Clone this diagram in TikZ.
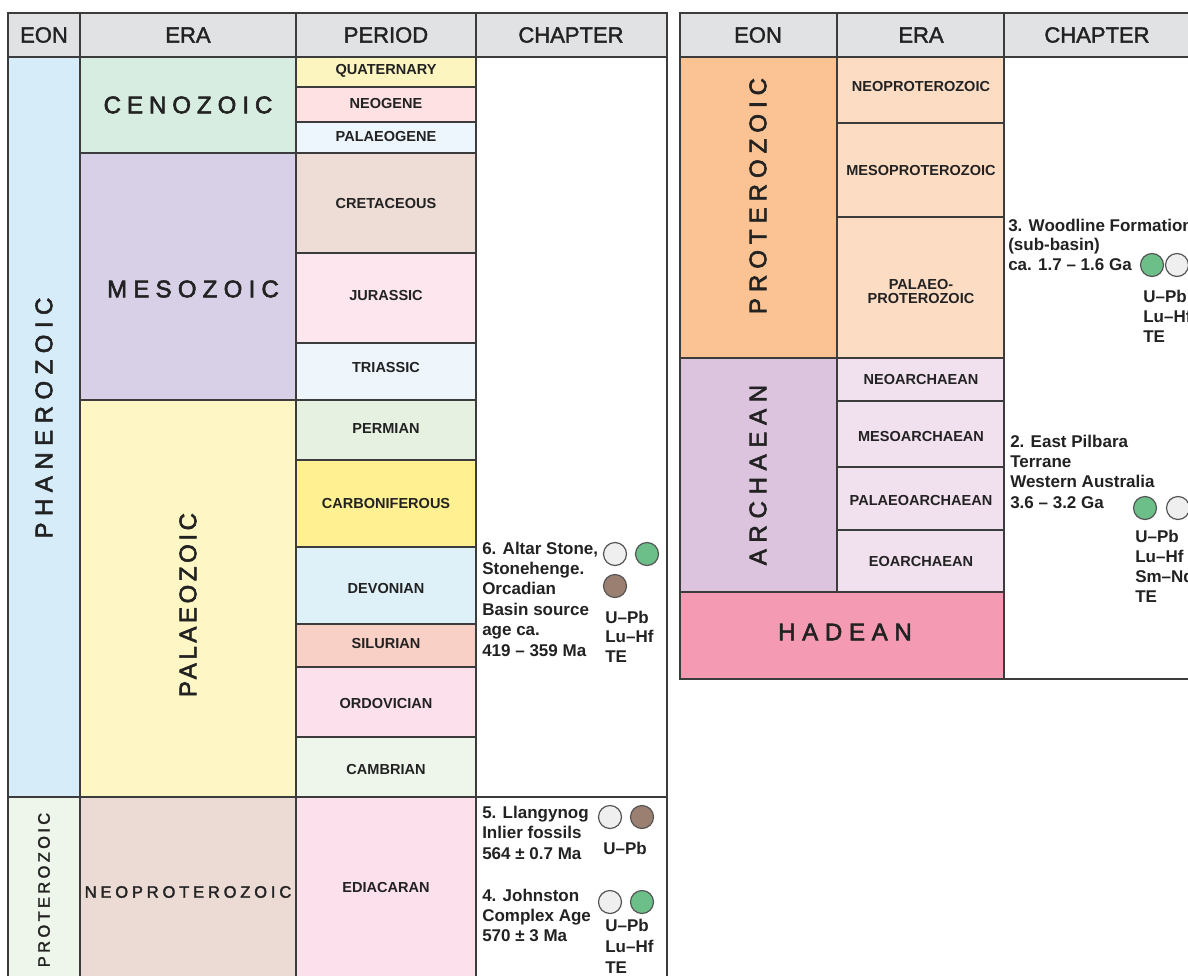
\documentclass[tikz,border=0pt]{standalone}
\usepackage{fontspec}
\setmainfont{Liberation Sans}
\setsansfont{Liberation Sans}
\newcommand{\lsp}[2]{{\addfontfeatures{LetterSpace=#1,FakeBold=2.5}#2}}
\newcommand{\lss}[2]{{\addfontfeatures{LetterSpace=#1,FakeBold=2}#2}}
\newcommand{\hfb}[1]{{\addfontfeatures{FakeBold=1.8}#1}}
\definecolor{lc}{HTML}{3C3C3C}
\definecolor{tc}{HTML}{222222}
\definecolor{hdrc}{HTML}{E1E2E4}
\definecolor{phan}{HTML}{D6EDF9}
\definecolor{ceno}{HTML}{D8EDE1}
\definecolor{meso}{HTML}{D7D0E7}
\definecolor{palz}{HTML}{FEF6C4}
\definecolor{quat}{HTML}{FDF5C0}
\definecolor{neog}{HTML}{FDE1E3}
\definecolor{palg}{HTML}{EEF6FD}
\definecolor{cret}{HTML}{EEDDD7}
\definecolor{jura}{HTML}{FDE6EE}
\definecolor{tria}{HTML}{EEF6FC}
\definecolor{perm}{HTML}{E6F1E2}
\definecolor{carb}{HTML}{FFF091}
\definecolor{devo}{HTML}{DFF1F8}
\definecolor{silu}{HTML}{F9D0C5}
\definecolor{ordo}{HTML}{FCE0EB}
\definecolor{camb}{HTML}{EEF6EC}
\definecolor{lprot}{HTML}{EEF6EC}
\definecolor{lneo}{HTML}{ECDAD5}
\definecolor{edia}{HTML}{FCE0EB}
\definecolor{rprot}{HTML}{FBC393}
\definecolor{rproe}{HTML}{FDDCC4}
\definecolor{arch}{HTML}{DCC3DE}
\definecolor{arce}{HTML}{F1E0EE}
\definecolor{hade}{HTML}{F49BB3}
\definecolor{cwhite}{HTML}{EFEFEF}
\definecolor{cgreen}{HTML}{6CBF88}
\definecolor{cbrown}{HTML}{9B8072}
\definecolor{cline}{HTML}{555555}
\begin{document}
\begin{tikzpicture}[x=0.75pt,y=-0.75pt,
  cell/.style={draw=lc, line width=1.5pt},
  outer/.style={draw=lc, line width=2pt},
  hdr/.style={font=\fontsize{16.5}{18}\selectfont, text=tc, inner sep=0},
  per/.style={font=\bfseries\fontsize{10.9}{12}\selectfont, text=tc, inner sep=0, align=center},
  big/.style={font=\fontsize{18}{20}\selectfont, text=tc, inner sep=0},
  small/.style={font=\fontsize{12.4}{14}\selectfont, text=tc, inner sep=0},
  ctext/.style={anchor=base west, inner sep=0, font=\bfseries\fontsize{12.75}{15}\selectfont, text=tc},
  circ/.style={circle, draw=cline, line width=0.9pt, minimum size=17.25pt, inner sep=0}]
\useasboundingbox (0,0) rectangle (1188,975);
\clip (0,0) rectangle (1188,975);
\fill[white] (0,0) rectangle (1188,975);
% ---------- left table ----------
\draw[cell, fill=hdrc] (8,13) rectangle (80,57);
\draw[cell, fill=hdrc] (80,13) rectangle (296,57);
\draw[cell, fill=hdrc] (296,13) rectangle (476,57);
\draw[cell, fill=hdrc] (476,13) rectangle (667,57);
\draw[cell, fill=phan] (8,57) rectangle (80,797);
\draw[cell, fill=lprot] (8,797) rectangle (80,990);
\draw[cell, fill=ceno] (80,57) rectangle (296,153);
\draw[cell, fill=meso] (80,153) rectangle (296,400);
\draw[cell, fill=palz] (80,400) rectangle (296,797);
\draw[cell, fill=lneo] (80,797) rectangle (296,990);
\draw[cell, fill=quat] (296,57) rectangle (476,87);
\draw[cell, fill=neog] (296,87) rectangle (476,122);
\draw[cell, fill=palg] (296,122) rectangle (476,153);
\draw[cell, fill=cret] (296,153) rectangle (476,253);
\draw[cell, fill=jura] (296,253) rectangle (476,343);
\draw[cell, fill=tria] (296,343) rectangle (476,400);
\draw[cell, fill=perm] (296,400) rectangle (476,460);
\draw[cell, fill=carb] (296,460) rectangle (476,547);
\draw[cell, fill=devo] (296,547) rectangle (476,624);
\draw[cell, fill=silu] (296,624) rectangle (476,667);
\draw[cell, fill=ordo] (296,667) rectangle (476,737);
\draw[cell, fill=camb] (296,737) rectangle (476,797);
\draw[cell, fill=edia] (296,797) rectangle (476,990);
\draw[cell, fill=white] (476,57) rectangle (667,797);
\draw[cell, fill=white] (476,797) rectangle (667,990);
\draw[outer] (8,990) -- (8,13) -- (667,13) -- (667,990);
% headers
\node[hdr] (hL1) at (44,35) {\hfb{EON}};
\node[hdr] (hL2) at (188,35) {\hfb{ERA}};
\node[hdr] (hL3) at (386,35) {\hfb{PERIOD}};
\node[hdr] (hL4) at (571,35) {\hfb{CHAPTER}};
% eons / eras
\node[big, rotate=90] (ePhan) at (44,418) {\lsp{27}{PHANEROZOIC}};
\node[small, rotate=90] (eProtL) at (44,890) {\lss{20}{PROTEROZOIC}};
\node[big] (rCeno) at (188,105) {\lsp{25}{CENOZOIC}};
\node[big] (rMeso) at (193,289) {\lsp{26}{MESOZOIC}};
\node[big, rotate=90] (rPalz) at (188,605) {\lsp{15}{PALAEOZOIC}};
\node[small] (rNeoL) at (188,892) {\lss{23}{NEOPROTEROZOIC}};
% periods
\node[per] (pQuat) at (386,71) {QUATERNARY};
\node[per] (pNeog) at (386,103) {NEOGENE};
\node[per] (pPalg) at (386,136) {PALAEOGENE};
\node[per] (pCret) at (386,203) {CRETACEOUS};
\node[per] (pJura) at (386,295) {JURASSIC};
\node[per] (pTria) at (386,367) {TRIASSIC};
\node[per] (pPerm) at (386,428) {PERMIAN};
\node[per] (pCarb) at (386,503) {CARBONIFEROUS};
\node[per] (pDevo) at (386,588) {DEVONIAN};
\node[per] (pSilu) at (386,643) {SILURIAN};
\node[per] (pOrdo) at (386,703) {ORDOVICIAN};
\node[per] (pCamb) at (386,769) {CAMBRIAN};
\node[per] (pEdia) at (386,887) {EDIACARAN};
% chapter 6
\foreach \t [count=\i] in {{6. Altar Stone,},{Stonehenge.},{Orcadian},{Basin source},{age ca.},{419 – 359 Ma}}
  \node[ctext] (c6t\i) at (482,{554+20.4*(\i-1)}) {\t};
\node[circ, fill=cwhite] (c6a) at (615,554) {};
\node[circ, fill=cgreen] (c6b) at (647,554) {};
\node[circ, fill=cbrown] (c6c) at (615,586) {};
\foreach \t [count=\i] in {U–Pb,Lu–Hf,TE}
  \node[ctext] (c6m\i) at (605,{623+19.5*(\i-1)}) {\t};
% chapter 5
\foreach \t [count=\i] in {5. Llangynog,Inlier fossils,564 ± 0.7 Ma}
  \node[ctext] (c5t\i) at (482,{818+20.5*(\i-1)}) {\t};
\node[circ, fill=cwhite] (c5a) at (610,817) {};
\node[circ, fill=cbrown] (c5b) at (642,817) {};
\node[ctext] (c5m1) at (603,854) {U–Pb};
% chapter 4
\foreach \t [count=\i] in {4. Johnston,Complex Age,570 ± 3 Ma}
  \node[ctext] (c4t\i) at (482,{901+20*(\i-1)}) {\t};
\node[circ, fill=cwhite] (c4a) at (610,902) {};
\node[circ, fill=cgreen] (c4b) at (642,902) {};
\foreach \t [count=\i] in {U–Pb,Lu–Hf,TE}
  \node[ctext] (c4m\i) at (605,{931+21*(\i-1)}) {\t};
% ---------- right table ----------
\draw[cell, fill=hdrc] (680,13) rectangle (837,57);
\draw[cell, fill=hdrc] (837,13) rectangle (1004,57);
\draw[cell, fill=hdrc] (1004,13) rectangle (1200,57);
\draw[cell, fill=rprot] (680,57) rectangle (837,358);
\draw[cell, fill=arch] (680,358) rectangle (837,592);
\draw[cell, fill=rproe] (837,57) rectangle (1004,123);
\draw[cell, fill=rproe] (837,123) rectangle (1004,217);
\draw[cell, fill=rproe] (837,217) rectangle (1004,358);
\draw[cell, fill=arce] (837,358) rectangle (1004,401);
\draw[cell, fill=arce] (837,401) rectangle (1004,467);
\draw[cell, fill=arce] (837,467) rectangle (1004,530);
\draw[cell, fill=arce] (837,530) rectangle (1004,592);
\draw[cell, fill=hade] (680,592) rectangle (1004,679);
\draw[cell, fill=white] (1004,57) rectangle (1200,679);
\draw[outer] (1200,13) -- (680,13) -- (680,679) -- (1200,679);
\node[hdr] (hR1) at (758,35) {\hfb{EON}};
\node[hdr] (hR2) at (921,35) {\hfb{ERA}};
\node[hdr] (hR3) at (1097,35) {\hfb{CHAPTER}};
\node[big, rotate=90] (eProtR) at (758,196) {\lsp{25}{PROTEROZOIC}};
\node[big, rotate=90] (eArch) at (758,475) {\lsp{28}{ARCHAEAN}};
\node[big] (eHade) at (845,632) {\lsp{28}{HADEAN}};
\node[per] (rNeo) at (921,86) {NEOPROTEROZOIC};
\node[per] (rMes) at (921,170) {MESOPROTEROZOIC};
\node[per] (rPal) at (921,291) {PALAEO-\\[-1.5pt]PROTEROZOIC};
\node[per] (aNeo) at (921,379) {NEOARCHAEAN};
\node[per] (aMes) at (921,436) {MESOARCHAEAN};
\node[per] (aPal) at (921,500) {PALAEOARCHAEAN};
\node[per] (aEo) at (921,561) {EOARCHAEAN};
% chapter 3
\foreach \t [count=\i] in {3. Woodline Formation,(sub-basin),ca. 1.7 – 1.6 Ga}
  \node[ctext] (c3t\i) at (1008,{231+19.5*(\i-1)}) {\t};
\node[circ, fill=cgreen] (c3a) at (1152,265) {};
\node[circ, fill=cwhite] (c3b) at (1177,265) {};
\foreach \t [count=\i] in {U–Pb,Lu–Hf,TE}
  \node[ctext] (c3m\i) at (1143,{302+20*(\i-1)}) {\t};
% chapter 2
\foreach \t [count=\i] in {2. East Pilbara,Terrane,Western Australia,3.6 – 3.2 Ga}
  \node[ctext] (c2t\i) at (1010,{447+20.4*(\i-1)}) {\t};
\node[circ, fill=cgreen] (c2a) at (1145,508) {};
\node[circ, fill=cwhite] (c2b) at (1178,508) {};
\foreach \t [count=\i] in {U–Pb,Lu–Hf,Sm–Nd,TE}
  \node[ctext] (c2m\i) at (1135,{542+20.3*(\i-1)}) {\t};
\end{tikzpicture}
\end{document}
